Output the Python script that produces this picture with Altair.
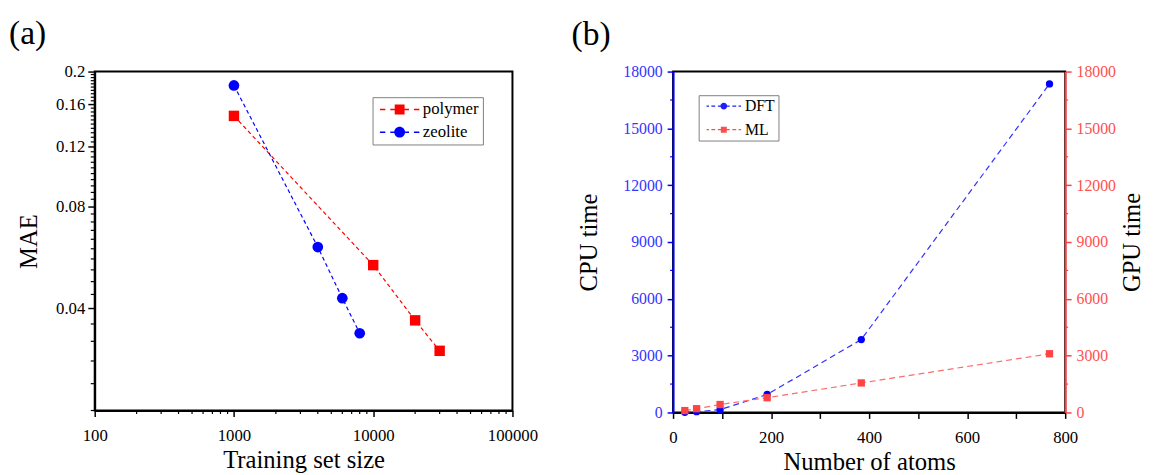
import altair as alt
import pandas as pd

FONT = "Liberation Serif"

# ---------------- panel (a) data ----------------
a_series = ["polymer", "zeolite"]
a_colors = ["#ff0000", "#0000ff"]
polymer_size = [1000, 10000, 20000, 30000]
polymer_mae = [0.148, 0.0537, 0.0369, 0.0300]
zeolite_size = [1000, 4000, 6000, 8000]
zeolite_mae = [0.182, 0.0607, 0.0429, 0.0338]
a_x_ticks = [100, 1000, 10000, 100000]
a_y_ticks = [0.04, 0.08, 0.12, 0.16, 0.2]

# ---------------- panel (b) data ----------------
b_series = ["DFT", "ML"]
b_colors = ["#1f1fff", "#ff4d4d"]
atoms = [24, 48, 96, 192, 384, 768]
dft_cpu = [10, 40, 150, 950, 3850, 17350]
ml_gpu = [100, 200, 420, 780, 1560, 3100]
b_x_ticks = [0, 100, 200, 300, 400, 500, 600, 700, 800]
b_y_ticks = [0, 3000, 6000, 9000, 12000, 15000, 18000]
b_y_minor = [1500, 4500, 7500, 10500, 13500, 16500]

# minor tick positions (axis decoration)
a_x_minor = [m * 10 ** e for e in (2, 3, 4) for m in range(2, 10)]
a_y_minor = [round(0.02 + 0.004 * i, 3) for i in range(46)]
a_y_minor = [v for v in a_y_minor if v not in a_y_ticks]


def sym_path(kind, r, dashes, hw):
    parts = []
    for a, b in dashes:
        for s in (1, -1):
            x1, x2 = sorted((s * a, s * b))
            parts.append(f"M{x1},{-hw}H{x2}V{hw}H{x1}Z")
    if kind == "square":
        parts.append(f"M{-r},{-r}H{r}V{r}H{-r}Z")
    else:
        parts.append(f"M{-r},0A{r},{r},0,1,1,{r},0A{r},{r},0,1,1,{-r},0Z")
    return "".join(parts)


PA_SQ = sym_path("square", 1.0, [(1.0, 1.9), (2.9, 4.0)], 0.15)
PA_CI = sym_path("circle", 1.1, [(1.1, 1.9), (2.9, 4.0)], 0.15)
PB_CI = sym_path("circle", 1.15, [(1.1, 2.0), (2.9, 4.2), (5.0, 5.83)], 0.22)
PB_SQ = sym_path("square", 1.0, [(1.0, 2.0), (2.9, 4.2), (5.0, 5.83)], 0.22)

common = dict(
    labelFont=FONT, labelFlush=False, labelOverlap=False,
    titleFont=FONT, titleFontWeight="normal", titleColor="black",
    grid=False, domainWidth=2, tickWidth=1.5,
)

WA, HA = 424, 344
WB, HB = 398, 346

# ---------------- panel (a) ----------------
dfa = pd.DataFrame({
    "size": polymer_size + zeolite_size,
    "mae": polymer_mae + zeolite_mae,
    "series": ["polymer"] * len(polymer_size) + ["zeolite"] * len(zeolite_size),
})

xs_a = alt.Scale(type="log", domain=[100, 100000], nice=False)
ys_a = alt.Scale(type="log", domain=[0.02, 0.2], nice=False)
ca = alt.Scale(domain=a_series, range=a_colors)

x_axis_a = alt.Axis(values=a_x_ticks, format="d", title="Training set size",
                    labelFontSize=17, labelColor="black", tickSize=6, labelPadding=11,
                    titleFontSize=25, titlePadding=5, domainColor="black",
                    tickColor="black", **common)
y_axis_a = alt.Axis(values=a_y_ticks, format="~g", title="MAE",
                    labelFontSize=17, labelColor="black", tickSize=7, labelPadding=3,
                    titleFontSize=25, titlePadding=14, domainColor="black",
                    tickColor="black", **common)

legend_a = alt.Legend(
    title=None, orient="none", legendX=282, legendY=26, direction="vertical",
    fillColor="white", strokeColor="#7f7f7f", padding=4,
    labelFont=FONT, labelFontSize=17, labelColor="black",
    symbolSize=100, symbolStrokeWidth=0, symbolOffset=15, labelOffset=15,
    symbolOpacity=1, rowPadding=5,
)

line_a = alt.Chart(dfa).mark_line(strokeWidth=1.2, strokeDash=[4, 3]).encode(
    x=alt.X("size:Q", scale=xs_a, axis=x_axis_a),
    y=alt.Y("mae:Q", scale=ys_a, axis=y_axis_a),
    color=alt.Color("series:N", scale=ca, legend=legend_a),
)
pts_poly = alt.Chart(dfa).transform_filter(alt.datum.series == "polymer").mark_point(
    shape="square", filled=True, size=112, opacity=1, color=a_colors[0]).encode(
    x=alt.X("size:Q", scale=xs_a),
    y=alt.Y("mae:Q", scale=ys_a),
)
pts_zeo = alt.Chart(dfa).transform_filter(alt.datum.series == "zeolite").mark_point(
    shape="circle", filled=True, size=118, opacity=1, color=a_colors[1]).encode(
    x=alt.X("size:Q", scale=xs_a),
    y=alt.Y("mae:Q", scale=ys_a),
)
xminor_a = alt.Chart(pd.DataFrame({"size": a_x_minor})).mark_rule(color="black", strokeWidth=1.2).encode(
    x=alt.X("size:Q", scale=xs_a), y=alt.value(HA), y2=alt.value(HA + 3.5),
)
yminor_a = alt.Chart(pd.DataFrame({"mae": a_y_minor})).mark_rule(color="black", strokeWidth=1.2).encode(
    y=alt.Y("mae:Q", scale=ys_a), x=alt.value(0), x2=alt.value(-4),
)
# legend-only layer: shapes are dashed-line + marker paths
leg_a = alt.Chart(pd.DataFrame({"series": a_series})).transform_filter("false").mark_point(
    filled=True, size=100, opacity=1, strokeWidth=0).encode(
    color=alt.Color("series:N", scale=ca, legend=legend_a),
    shape=alt.Shape("series:N", scale=alt.Scale(domain=a_series, range=[PA_SQ, PA_CI]), legend=legend_a),
)

title_a = alt.TitleParams(text="(a)", anchor="start", frame="group", dx=-87, offset=-22,
                          fontSize=34, font=FONT, fontWeight="normal", color="black",
                          baseline="bottom")

chart_a = alt.layer(line_a, pts_poly, pts_zeo, xminor_a, yminor_a, leg_a).properties(
    width=WA, height=HA, title=title_a)

# ---------------- panel (b) ----------------
dfb_dft = pd.DataFrame({"atoms": atoms, "cpu": dft_cpu, "series": "DFT"})
dfb_ml = pd.DataFrame({"atoms": atoms, "gpu": ml_gpu, "series": "ML"})

xs_b = alt.Scale(domain=[0, 800], nice=False)
ys_l = alt.Scale(domain=[0, 18000], nice=False)
ys_r = alt.Scale(domain=[0, 18000], nice=False)
cb = alt.Scale(domain=b_series, range=b_colors)

x_axis_b = alt.Axis(values=b_x_ticks, labelExpr="datum.value % 200 === 0 ? datum.label : ''",
                    title="Number of atoms", labelFontSize=17, labelColor="black",
                    tickSize=6, labelPadding=11, titleFontSize=25, titlePadding=5,
                    domainColor="black", tickColor="black", **common)
y_axis_l = alt.Axis(values=b_y_ticks, format="d", title="CPU time", orient="left",
                    labelFontSize=16, labelColor="#3535ff", domainColor="#0000ff",
                    tickColor="#0000ff", tickSize=6, labelPadding=5,
                    titleFontSize=25, titlePadding=22, **common)
y_axis_r = alt.Axis(values=b_y_ticks, format="d", title="GPU time", orient="right",
                    labelFontSize=16, labelColor="#ff5050", domainColor="#ff4040",
                    tickColor="#ff4040", tickSize=6, labelPadding=5,
                    titleFontSize=25, titlePadding=4, titleAngle=270,
                    titleBaseline="top", **common)

legend_b = alt.Legend(
    title=None, orient="none", legendX=26, legendY=24, direction="vertical",
    fillColor="white", strokeColor="#7f7f7f", padding=3,
    labelFont=FONT, labelFontSize=16, labelColor="black",
    symbolSize=36, symbolStrokeWidth=0, symbolOffset=14.5, labelOffset=13.5,
    symbolOpacity=1, rowPadding=8,
)

dft_line = alt.Chart(dfb_dft).mark_line(color="#3030ff", strokeWidth=1.2, strokeDash=[6, 4]).encode(
    x=alt.X("atoms:Q", scale=xs_b, axis=x_axis_b),
    y=alt.Y("cpu:Q", scale=ys_l, axis=y_axis_l),
)
dft_pts = alt.Chart(dfb_dft).mark_point(shape="circle", filled=True, size=55, opacity=1,
                                        color="#0000ff").encode(
    x=alt.X("atoms:Q", scale=xs_b),
    y=alt.Y("cpu:Q", scale=ys_l),
)
left_minor = alt.Chart(pd.DataFrame({"cpu": b_y_minor})).mark_rule(color="#0000ff", strokeWidth=1.2).encode(
    y=alt.Y("cpu:Q", scale=ys_l), x=alt.value(0), x2=alt.value(-3),
)
left = alt.layer(dft_line, dft_pts, left_minor)

ml_line = alt.Chart(dfb_ml).mark_line(color="#ff6a6a", strokeWidth=1.2, strokeDash=[6, 4]).encode(
    x=alt.X("atoms:Q", scale=xs_b),
    y=alt.Y("gpu:Q", scale=ys_r, axis=y_axis_r),
)
ml_pts = alt.Chart(dfb_ml).mark_point(shape="square", filled=True, size=55, opacity=1,
                                      color="#ff4444").encode(
    x=alt.X("atoms:Q", scale=xs_b),
    y=alt.Y("gpu:Q", scale=ys_r),
)
right_minor = alt.Chart(pd.DataFrame({"gpu": b_y_minor})).mark_rule(color="#ff4040", strokeWidth=1.2).encode(
    y=alt.Y("gpu:Q", scale=ys_r), x=alt.value(WB), x2=alt.value(WB + 3),
)
right = alt.layer(ml_line, ml_pts, right_minor)

leg_b = alt.Chart(pd.DataFrame({"series": b_series})).transform_filter("false").mark_point(
    filled=True, size=36, opacity=1, strokeWidth=0).encode(
    color=alt.Color("series:N", scale=cb, legend=legend_b),
    shape=alt.Shape("series:N", scale=alt.Scale(domain=b_series, range=[PB_CI, PB_SQ]), legend=legend_b),
)

title_b = alt.TitleParams(text="(b)", anchor="start", frame="group", dx=-103, offset=-22,
                          fontSize=34, font=FONT, fontWeight="normal", color="black",
                          baseline="bottom")

chart_b = alt.layer(left, right, leg_b).resolve_scale(y="independent").properties(
    width=WB, height=HB, title=title_b)

chart = (
    alt.hconcat(chart_a, chart_b, spacing=32)
    .resolve_scale(color="independent", shape="independent")
    .properties(padding={"left": 0, "top": 5, "right": 0, "bottom": 0})
    .configure_view(stroke="black", strokeWidth=2)
    .configure_axis(grid=False)
)

chart.save("out.html", embed_options={"renderer": "svg", "actions": False})
